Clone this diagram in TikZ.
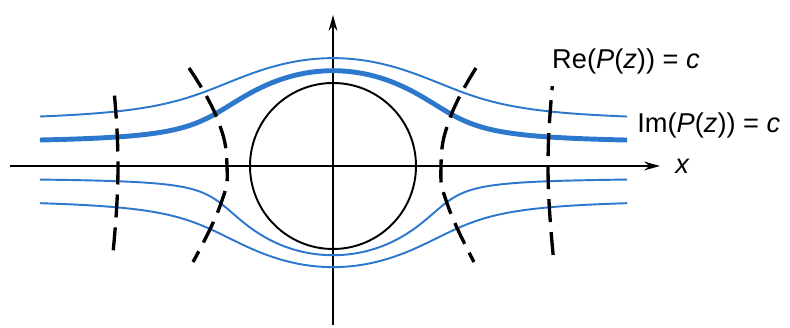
\documentclass[tikz,border=0pt]{standalone}
\usepackage{fontspec}
\setmainfont{Liberation Sans}
\usetikzlibrary{arrows.meta,positioning}
\definecolor{flowblue}{RGB}{45,120,205}
\tikzset{
  declare function={strm(\x,\y)=(\x+sqrt(\x*\x+11.0224*sin(\y)*sin(\y)))/2;
                    potl(\x,\y)=(\x+sqrt(\x*\x-11.0224*cos(\y)*cos(\y)))/2;},
  axisline/.style={line width=1.1pt,-{Stealth[length=9pt,width=5pt]}},
  flowline/.style={flowblue,line width=1.1pt},
  flowthick/.style={flowblue,line width=2.8pt},
  potline/.style={black,line width=1.9pt,dash pattern=on 0.46cm off 0.2cm},
  lbl/.style={font=\fontsize{15.5}{17}\selectfont,inner sep=0pt}
}

\begin{document}
\begin{tikzpicture}
  \useasboundingbox (-6.66,-3.24) rectangle (9.14,3.32);
  \coordinate (xl) at (-6.46,0);
  \coordinate (xr) at (6.54,0);
  \coordinate (yb) at (0,-3.18);
  \coordinate (yt) at (0,3.02);
  \draw[axisline] (xl) -- (xr);
  \draw[axisline] (yb) -- (yt);
  \begin{scope}
    \clip (-5.86,-3) rectangle (5.88,3);
    \draw[flowline,domain=1:179,samples=400,variable=\t] plot ({1.2*strm(0.88,\t)*cot(\t)},{strm(0.88,\t)});
    \draw[flowthick,domain=1:179,samples=400,variable=\t] plot ({1.2*strm(0.46,\t)*cot(\t)},{strm(0.46,\t)});
    \draw[flowline,domain=1:179,samples=400,variable=\t] plot ({1.2*strm(0.24,\t)*cot(\t)},{-strm(0.24,\t)});
    \draw[flowline,domain=1:179,samples=400,variable=\t] plot ({1.2*strm(0.66,\t)*cot(\t)},{-strm(0.66,\t)});
  \end{scope}
  \draw[line width=1.1pt] (0,0) circle (1.66);
  \draw[potline,domain=-21:20,samples=60,variable=\t] plot ({-potl(4.941,\t)},{potl(4.941,\t)*tan(\t)});
  \draw[potline] plot[smooth,tension=0.8] coordinates {(-2.88,1.96) (-2.32,0.96) (-2.12,0) (-2.26,-0.8) (-2.80,-1.92)};
  \draw[potline] plot[smooth,tension=0.8] coordinates {(2.86,1.96) (2.34,0.96) (2.16,0) (2.30,-0.8) (2.82,-1.92)};
  \draw[potline,domain=-22:20,samples=60,variable=\t] plot ({potl(4.941,\t)},{potl(4.941,\t)*tan(\t)});
  \node[lbl,right=0.3cm of xr] (xlab) {\textit{x}};
  \node[lbl] (relab) at (5.86,2.1) {Re(\textit{P}(\textit{z})) = \textit{c}};
  \node[lbl,anchor=west] (imlab) at (6.08,0.82) {Im(\textit{P}(\textit{z})) = \textit{c}};
\end{tikzpicture}
\end{document}
